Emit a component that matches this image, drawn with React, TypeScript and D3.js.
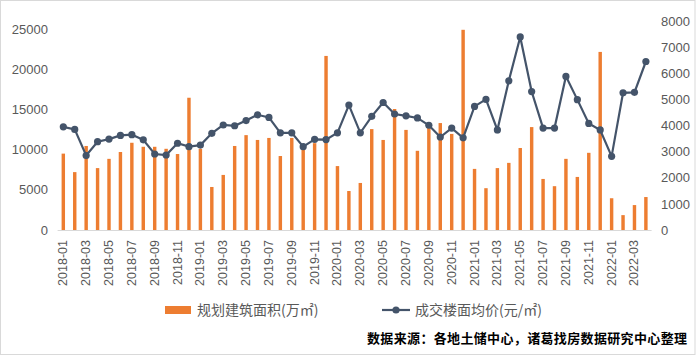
import React, { useRef, useEffect } from "react";
import * as d3 from "d3";

const months: string[] = [];
for (let y = 2018; y <= 2022; y++)
  for (let m = 1; m <= 12; m++)
    if (!(y === 2022 && m > 4)) months.push(`${y}-${String(m).padStart(2, "0")}`);

// 规划建筑面积 (万㎡)
const area = [
  9500, 7200, 10450, 7700, 8850, 9700, 10850, 10350, 10350, 10100, 9450, 16450,
  10100, 5350, 6850, 10450, 11800, 11200, 11450, 9200, 11450, 10200, 10800, 21650,
  7950, 4850, 5850, 12550, 11200, 15050, 12450, 9850, 12850, 13300, 11950, 24900,
  7600, 5200, 7700, 8350, 10200, 12800, 6350, 5450, 8850, 6600, 9600, 22150,
  3950, 1850, 3100, 4100,
];

// 成交楼面均价 (元/㎡)
const price = [
  3950, 3850, 2850, 3380, 3480, 3620, 3650, 3450, 2910, 2870, 3320, 3190,
  3250, 3700, 4020, 3990, 4190, 4410, 4310, 3720, 3720, 3190, 3470, 3460,
  3720, 4780, 3720, 4350, 4880, 4440, 4370, 4290, 4010, 3560, 3900, 3530,
  4730, 5000, 3830, 5710, 7390, 5300, 3900, 3900, 5880, 4990, 4080, 3830,
  2820, 5250, 5270, 6450,
];

const leftTicks = [0, 5000, 10000, 15000, 20000, 25000];
const rightTicks = [0, 1000, 2000, 3000, 4000, 5000, 6000, 7000, 8000];

const W = 697;
const H = 363;
const ORANGE = "#ED7D31";
const SLATE = "#44546A";
const GRAY = "#595959";
const FONT = "'Liberation Sans', 'Noto Sans CJK SC', sans-serif";
const CJK = "'Noto Sans CJK SC', sans-serif";

const App = () => {
  const ref = useRef<SVGSVGElement>(null);

  useEffect(() => {
    const svg = d3.select(ref.current);
    svg.selectAll("*").remove();

    const x = d3.scaleBand<string>().domain(months).range([57.6, 651.6])
      .paddingInner(0.7).paddingOuter(0.35);
    const yL = d3.scaleLinear().domain([0, 25000]).range([230, 29]);
    const yR = d3.scaleLinear().domain([0, 8000]).range([230, 21]);
    const cx = (m: string) => (x(m) as number) + x.bandwidth() / 2;

    // frame
    svg.append("rect")
      .attr("x", 0.5).attr("y", 0.5).attr("width", 694.5).attr("height", 354)
      .attr("fill", "white").attr("stroke", "#D9D9D9");

    // bars
    svg.append("g").selectAll("rect").data(area).join("rect")
      .attr("x", (_, i) => x(months[i]) as number)
      .attr("y", d => yL(d))
      .attr("width", x.bandwidth())
      .attr("height", d => yL(0) - yL(d))
      .attr("fill", ORANGE);

    // axis line
    svg.append("line")
      .attr("x1", 57.6).attr("x2", 651.6).attr("y1", 230.5).attr("y2", 230.5)
      .attr("stroke", "#D9D9D9");

    // price line
    const line = d3.line<number>().x((_, i) => cx(months[i])).y(d => yR(d));
    svg.append("path").datum(price)
      .attr("d", line).attr("fill", "none")
      .attr("stroke", SLATE).attr("stroke-width", 2.2);
    svg.append("g").selectAll("circle").data(price).join("circle")
      .attr("cx", (_, i) => cx(months[i]))
      .attr("cy", d => yR(d))
      .attr("r", 3.6).attr("fill", SLATE);

    // left axis labels
    svg.append("g").selectAll("text").data(leftTicks).join("text")
      .attr("x", 48).attr("y", d => yL(d)).attr("dy", "0.36em")
      .attr("text-anchor", "end").attr("font-family", FONT)
      .attr("font-size", 13).attr("fill", GRAY).text(d => d);

    // right axis labels
    svg.append("g").selectAll("text").data(rightTicks).join("text")
      .attr("x", 661).attr("y", d => yR(d)).attr("dy", "0.36em")
      .attr("text-anchor", "start").attr("font-family", FONT)
      .attr("font-size", 13).attr("fill", GRAY).text(d => d);

    // x labels
    svg.append("g").selectAll("text").data(months.filter((_, i) => i % 2 === 0)).join("text")
      .attr("transform", d => `translate(${cx(d)},240) rotate(-90)`)
      .attr("text-anchor", "end").attr("dominant-baseline", "central")
      .attr("font-family", FONT).attr("font-size", 12.5).attr("fill", GRAY)
      .text(d => d);

    // legend
    const lg = svg.append("g");
    lg.append("rect").attr("x", 165).attr("y", 306).attr("width", 26).attr("height", 8)
      .attr("fill", ORANGE);
    lg.append("text").attr("x", 197).attr("y", 310).attr("dy", "0.36em")
      .attr("font-family", CJK).attr("font-size", 14).attr("fill", GRAY)
      .text("规划建筑面积(万㎡)");
    lg.append("line").attr("x1", 382).attr("x2", 410).attr("y1", 310).attr("y2", 310)
      .attr("stroke", SLATE).attr("stroke-width", 2.2);
    lg.append("circle").attr("cx", 396).attr("cy", 310).attr("r", 3.6).attr("fill", SLATE);
    lg.append("text").attr("x", 415).attr("y", 310).attr("dy", "0.36em")
      .attr("font-family", CJK).attr("font-size", 14).attr("fill", GRAY)
      .text("成交楼面均价(元/㎡)");

    // source note
    svg.append("text").attr("x", 367).attr("y", 338).attr("dy", "0.36em")
      .attr("font-family", CJK).attr("font-size", 13).attr("font-weight", "bold")
      .attr("fill", "#000").attr("textLength", 320).attr("lengthAdjust", "spacing")
      .text("数据来源：各地土储中心，诸葛找房数据研究中心整理");
  }, []);

  return (
    <div>
      <svg ref={ref} width={W} height={H}
        style={{ position: "absolute", left: 0, top: 0, background: "white" }} />
    </div>
  );
};

export default App;
